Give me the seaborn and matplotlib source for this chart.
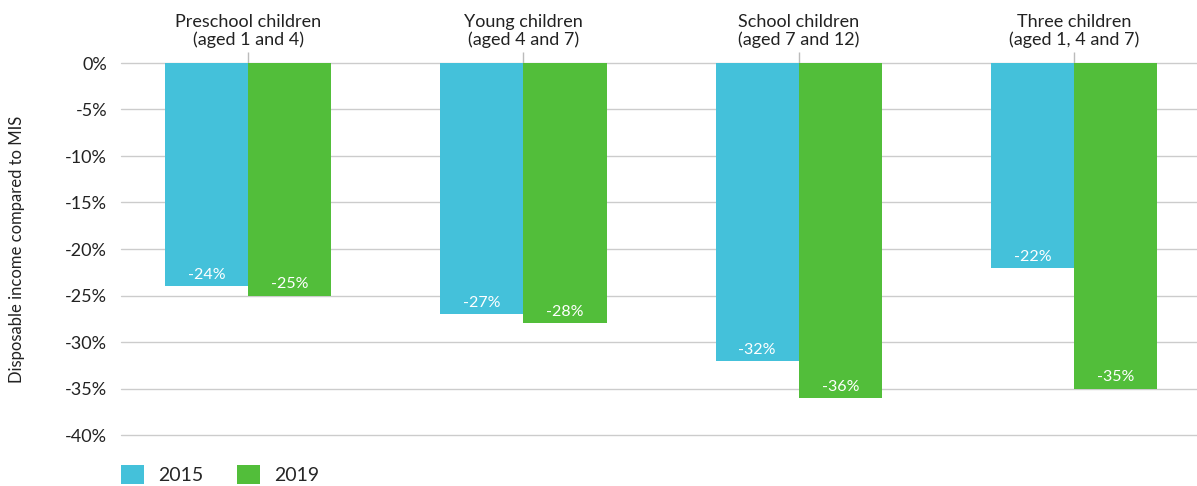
import matplotlib
matplotlib.use("Agg")
import matplotlib.pyplot as plt
import seaborn as sns
import pandas as pd

categories = ["Preschool children\n(aged 1 and 4)", "Young children\n(aged 4 and 7)",
              "School children\n(aged 7 and 12)", "Three children\n(aged 1, 4 and 7)"]
years = ["2015", "2019"]
values_2015 = [-24, -27, -32, -22]
values_2019 = [-25, -28, -36, -35]
y_ticks = [0, -5, -10, -15, -20, -25, -30, -35, -40]

sns.set_theme(style="white")
plt.rcParams['font.family'] = ['Lato', 'DejaVu Sans']

df = pd.DataFrame({
    "category": categories * 2,
    "year": [years[0]] * 4 + [years[1]] * 4,
    "value": values_2015 + values_2019,
})

colors = {"2015": "#44C1DA", "2019": "#52BE3A"}

fig = plt.figure(figsize=(11.97, 4.86), dpi=100)
ax = fig.add_axes([121/1197, 1 - 435/486, 1 - 121/1197, (435 - 63)/486])

sns.barplot(data=df, x="category", y="value", hue="year", palette=colors,
            width=0.604, saturation=1, ax=ax, legend=True, linewidth=0)

ax.set_ylim(-40, 0)
ax.set_xlim(-0.462, 3.447)
ax.set_yticks(y_ticks)
ax.set_yticklabels([f"{t}%" for t in y_ticks], fontsize=13, color="#222222")
ax.yaxis.grid(True, color="#cccccc", linewidth=1)
for gl in ax.get_ygridlines():
    gl.set_clip_on(False)
ax.set_axisbelow(True)
for s in ax.spines.values():
    s.set_visible(False)
ax.tick_params(axis="y", length=0, pad=10)

ax.xaxis.tick_top()
ax.tick_params(axis="x", top=True, bottom=False, length=8, width=1, color="#bbbbbb",
               labelsize=13, labelcolor="#222222", pad=3)
ax.set_xlabel("")
ax.set_ylabel("Disposable income compared to MIS", fontsize=12, color="#222222")
ax.yaxis.set_label_coords(-0.089, 0.5)
for lbl in ax.get_xticklabels():
    lbl.set_linespacing(1.12)

for cont in ax.containers:
    labels = [f"{int(v)}%" for v in cont.datavalues]
    ax.bar_label(cont, labels=labels, label_type="edge", padding=-13,
                 color="white", fontsize=11.5)

handles, labs = ax.get_legend_handles_labels()
ax.legend(handles, labs, loc="upper left", bbox_to_anchor=(0.0, -0.081), ncol=2,
          frameon=False, fontsize=14, handlelength=1.18, handleheight=1.08,
          columnspacing=1.75, handletextpad=0.72, borderaxespad=0, borderpad=0)

fig.savefig("out.png", dpi=100)
